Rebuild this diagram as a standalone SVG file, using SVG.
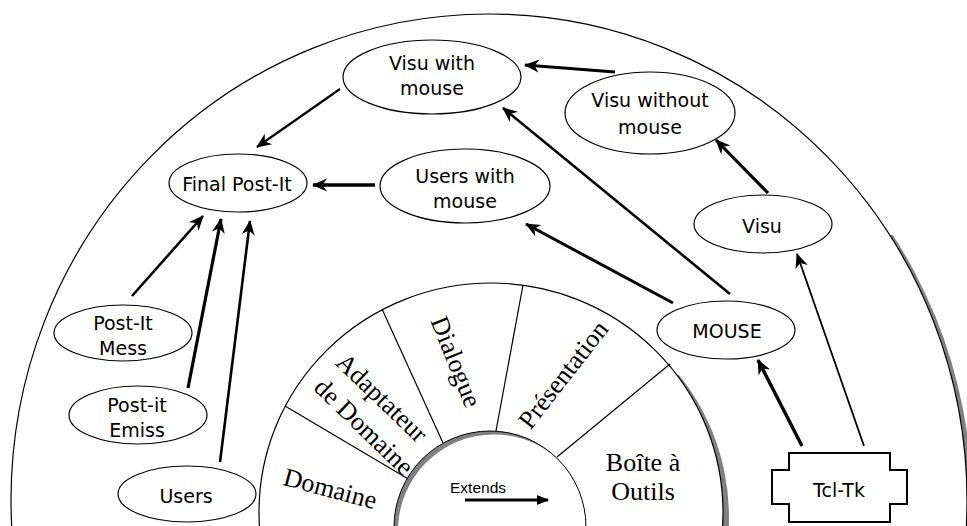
<svg xmlns="http://www.w3.org/2000/svg" width="967" height="526" viewBox="0 0 967 526">
<defs>
<style>
.nd{fill:#fff;stroke:#000;stroke-width:1.2}
.nt{font-family:"DejaVu Sans",sans-serif;font-size:19px;fill:#000;text-anchor:middle}
.sec{font-family:"Liberation Serif","Times New Roman",serif;font-size:26px;fill:#000;text-anchor:middle}
.ln{stroke:#000;fill:none;stroke-width:1.2}
.ar{stroke:#000;fill:none;marker-end:url(#ah)}
.sh{fill:#808080}
</style>
<marker id="ah" markerUnits="userSpaceOnUse" viewBox="-15 -7 17 14" markerWidth="17" markerHeight="14" refX="0" refY="0" orient="auto">
<path d="M1,0 L-14,-6.5 L-9.5,0 L-14,6.5 Z" fill="#000"/>
</marker>
<marker id="ah2" markerUnits="userSpaceOnUse" viewBox="-12 -6 14 12" markerWidth="14" markerHeight="12" refX="0" refY="0" orient="auto">
<path d="M1,0 L-11,-5 L-11,5 Z" fill="#000"/>
</marker>
<clipPath id="cOuter"><rect x="850" y="235" width="130" height="300"/></clipPath>
<clipPath id="cWheel"><rect x="640" y="375" width="160" height="160"/></clipPath>
<clipPath id="cInner"><circle cx="490" cy="527" r="96"/></clipPath>
</defs>
<rect x="0" y="0" width="967" height="526" fill="#fff"/>

<g id="frame">
<ellipse class="sh" cx="494" cy="503" rx="478" ry="486" clip-path="url(#cOuter)"/>
<ellipse cx="489" cy="500" rx="478" ry="486" fill="#fff" stroke="#000" stroke-width="1.2"/>
</g>

<g id="wheel">
<ellipse class="sh" cx="497" cy="517" rx="232" ry="229" clip-path="url(#cWheel)"/>
<ellipse cx="491" cy="512" rx="232" ry="229" fill="#fff" stroke="#000" stroke-width="1.2"/>
<line class="ln" x1="285" y1="406" x2="410" y2="480"/>
<line class="ln" x1="382" y1="309" x2="443" y2="443"/>
<line class="ln" x1="523" y1="285" x2="496" y2="431"/>
<line class="ln" x1="670" y1="364" x2="557" y2="457"/>
<text class="sec" transform="translate(328,497) rotate(15)">Domaine</text>
<text class="sec" transform="translate(376,404) rotate(44)">Adaptateur</text>
<text class="sec" transform="translate(358,433) rotate(44)">de Domaine</text>
<text class="sec" transform="translate(448,365) rotate(68)">Dialogue</text>
<text class="sec" transform="translate(570,380) rotate(-52)">Présentation</text>
<text class="sec" x="643" y="471">Boîte à</text>
<text class="sec" x="643" y="500">Outils</text>
</g>

<g id="core">
<circle class="sh" cx="490" cy="527" r="96"/>
<circle cx="494" cy="530.5" r="96" fill="#fff" clip-path="url(#cInner)"/>
<circle cx="490" cy="527" r="96" fill="none" stroke="#000" stroke-width="1"/>
<text x="450" y="493" font-family="Liberation Sans, Arial, sans-serif" font-size="15.5">Extends</text>
<line x1="465" y1="500" x2="548" y2="500" stroke="#000" stroke-width="3" marker-end="url(#ah2)"/>
</g>

<g id="connectors">
<line class="ar" stroke-width="3.2" x1="615" y1="72" x2="525" y2="65"/>
<line class="ar" stroke-width="3.2" x1="768" y1="193" x2="716" y2="140"/>
<line class="ar" stroke-width="2.6" x1="730" y1="294" x2="503" y2="108"/>
<line class="ar" stroke-width="3" x1="673" y1="303" x2="526" y2="224"/>
<line class="ar" stroke-width="3.4" x1="375" y1="185" x2="313" y2="185"/>
<line class="ar" stroke-width="2.2" x1="340" y1="89" x2="257" y2="147"/>
<line class="ar" stroke-width="2.6" x1="132" y1="296" x2="203" y2="216"/>
<line class="ar" stroke-width="3.2" x1="188" y1="388" x2="221" y2="219"/>
<line class="ar" stroke-width="2.6" x1="220" y1="462" x2="250" y2="221"/>
<line class="ar" stroke-width="3.4" x1="802" y1="446" x2="758" y2="360"/>
<line class="ar" stroke-width="1.8" x1="864" y1="446" x2="797" y2="254"/>
</g>

<g id="n-visu-with-mouse">
<ellipse class="nd" cx="432" cy="77" rx="89" ry="37"/>
<text class="nt" x="432" y="70">Visu with</text>
<text class="nt" x="432" y="95">mouse</text>
</g>
<g id="n-visu-without-mouse">
<ellipse class="nd" cx="650" cy="113" rx="85" ry="41"/>
<text class="nt" x="650" y="107">Visu without</text>
<text class="nt" x="650" y="134">mouse</text>
</g>
<g id="n-users-with-mouse">
<ellipse class="nd" cx="465" cy="186" rx="85" ry="37"/>
<text class="nt" x="465" y="183">Users with</text>
<text class="nt" x="465" y="208">mouse</text>
</g>
<g id="n-final-post-it">
<ellipse class="nd" cx="238" cy="183" rx="69" ry="29"/>
<text class="nt" x="237" y="191">Final Post-It</text>
</g>
<g id="n-visu">
<ellipse class="nd" cx="763" cy="224" rx="69" ry="29"/>
<text class="nt" x="762" y="233">Visu</text>
</g>
<g id="n-mouse">
<ellipse class="nd" cx="726" cy="330" rx="69" ry="29"/>
<text class="nt" x="727" y="338">MOUSE</text>
</g>
<g id="n-post-it-mess">
<ellipse class="nd" cx="123" cy="333" rx="69" ry="28"/>
<text class="nt" x="123" y="330">Post-It</text>
<text class="nt" x="123" y="355">Mess</text>
</g>
<g id="n-post-it-emiss">
<ellipse class="nd" cx="138" cy="415" rx="69" ry="29"/>
<text class="nt" x="137" y="412">Post-it</text>
<text class="nt" x="137" y="437">Emiss</text>
</g>
<g id="n-users">
<ellipse class="nd" cx="187" cy="494" rx="69" ry="28"/>
<text class="nt" x="186" y="503">Users</text>
</g>
<g id="n-tcl-tk">
<path d="M789,453 H890 V470 H907 V504 H890 V522 H789 V504 H772 V470 H789 Z" fill="#fff" stroke="#000" stroke-width="2"/>
<text class="nt" x="839" y="497">Tcl-Tk</text>
</g>
</svg>
